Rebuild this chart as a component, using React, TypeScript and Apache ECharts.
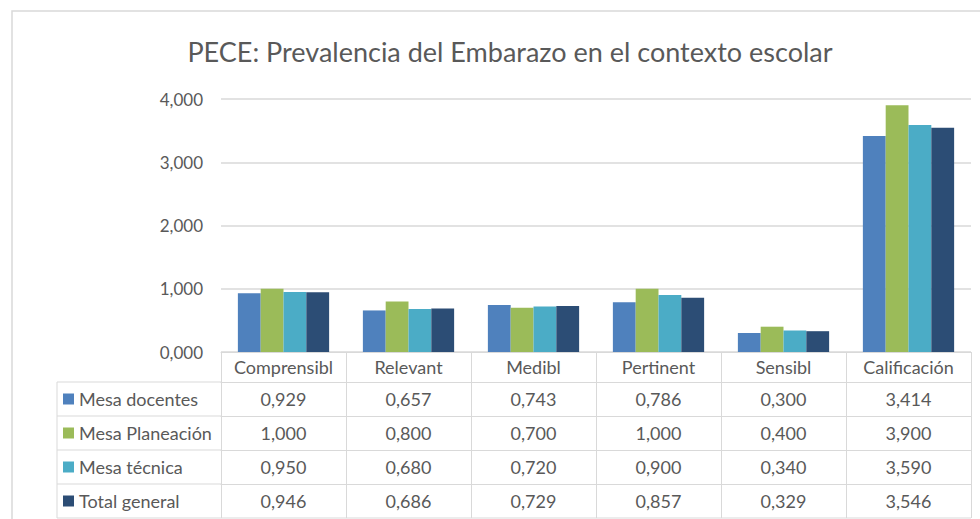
import React, { useEffect, useRef } from "react";
import * as echarts from "echarts";

const titleText = "PECE: Prevalencia del Embarazo en el contexto escolar";
const categories = ["Comprensibl", "Relevant", "Medibl", "Pertinent", "Sensibl", "Calificación"];
const seriesNames = ["Mesa docentes", "Mesa Planeación", "Mesa técnica", "Total general"];
const mesaDocentes = [0.929, 0.657, 0.743, 0.786, 0.3, 3.414];
const mesaPlaneacion = [1.0, 0.8, 0.7, 1.0, 0.4, 3.9];
const mesaTecnica = [0.95, 0.68, 0.72, 0.9, 0.34, 3.59];
const totalGeneral = [0.946, 0.686, 0.729, 0.857, 0.329, 3.546];
const yTicks = [0, 1, 2, 3, 4];
const colors = ["#4F81BD", "#9BBB59", "#4BACC6", "#2C4D75"];

const fmt = (v: number) => v.toFixed(3).replace(".", ",");

export default function App() {
  const ref = useRef<HTMLDivElement>(null);
  useEffect(() => {
    if (!ref.current) return;
    const chart = echarts.init(ref.current, null, { renderer: "svg" });
    const W = 980, H = 519;
    const gLeft = 221, gRight = 9, gTop = 99, gBottom = 167;
    const axisY = H - gBottom; // 352
    const headerH = 30;
    const rowH = 34;
    const legendLeft = 57;
    const font = "Lato, 'Open Sans', sans-serif";
    const txt = "#595959";
    const line = "#d9d9d9";
    const fs = 18;
    const data = [mesaDocentes, mesaPlaneacion, mesaTecnica, totalGeneral];

    const rowAxes = data.map((arr, i) => ({
      type: "category",
      gridIndex: 0,
      position: "bottom",
      offset: headerH + rowH * i,
      data: arr.map(fmt),
      axisLine: { show: true, lineStyle: { color: line, width: 1 } },
      axisTick: { show: true, interval: 0, length: rowH, lineStyle: { color: line, width: 1 } },
      axisLabel: { interval: 0, margin: 8, color: txt, fontSize: fs, fontFamily: font },
      splitLine: { show: false },
    }));

    const tableBottom = axisY + headerH + rowH * 4;
    const legendLines: any[] = [];
    for (let i = 0; i <= 4; i++) {
      const y = axisY + headerH + rowH * i;
      legendLines.push({
        type: "line",
        shape: { x1: legendLeft, y1: y, x2: i === 4 ? W - gRight : gLeft, y2: y },
        style: { stroke: line, lineWidth: 1 },
        silent: true,
      });
    }
    legendLines.push({
      type: "line",
      shape: { x1: legendLeft, y1: axisY + headerH, x2: legendLeft, y2: tableBottom },
      style: { stroke: line, lineWidth: 1 },
      silent: true,
    });

    chart.setOption({
      animation: false,
      backgroundColor: "#ffffff",
      color: colors,
      title: {
        text: titleText,
        left: 505,
        textAlign: "center",
        top: 33,
        textStyle: { color: txt, fontSize: 27, fontWeight: "normal", fontFamily: font },
      },
      grid: { left: gLeft, right: gRight, top: gTop, bottom: gBottom, containLabel: false },
      legend: {
        orient: "vertical",
        left: 63,
        top: 389,
        bottom: 0,
        padding: 0,
        itemWidth: 11,
        itemHeight: 11,
        itemGap: 14,
        icon: "rect",
        selectedMode: false,
        data: seriesNames,
        textStyle: { color: txt, fontSize: fs, fontFamily: font, lineHeight: 20 },
      },
      xAxis: [
        {
          type: "category",
          gridIndex: 0,
          position: "bottom",
          data: categories,
          axisLine: { show: true, lineStyle: { color: line, width: 1 } },
          axisTick: { show: true, interval: 0, length: headerH, lineStyle: { color: line, width: 1 } },
          axisLabel: { interval: 0, margin: 6, color: txt, fontSize: fs, fontFamily: font },
          splitLine: { show: false },
        },
        ...rowAxes,
      ],
      yAxis: {
        type: "value",
        min: yTicks[0],
        max: yTicks[yTicks.length - 1],
        interval: 1,
        axisLine: { show: false },
        axisTick: { show: false },
        axisLabel: { margin: 18, color: txt, fontSize: 17, fontFamily: font, formatter: (v: number) => fmt(v) },
        splitLine: { show: true, lineStyle: { color: line, width: 1.5 } },
      },
      series: data.map((arr, i) => ({
        name: seriesNames[i],
        type: "bar",
        xAxisIndex: 0,
        data: arr,
        barGap: "0%",
        barCategoryGap: "27%",
        itemStyle: { color: colors[i] },
      })),
      graphic: [
        {
          type: "rect",
          shape: { x: 12, y: 11, width: 1100, height: 700 },
          style: { fill: "none", stroke: line, lineWidth: 1.5 },
          silent: true,
        },
        ...legendLines,
      ],
    });
    return () => chart.dispose();
  }, []);
  return (
    <div
      ref={ref}
      style={{ position: "fixed", left: 0, top: 0, width: 980, height: 519 }}
    />
  );
}
